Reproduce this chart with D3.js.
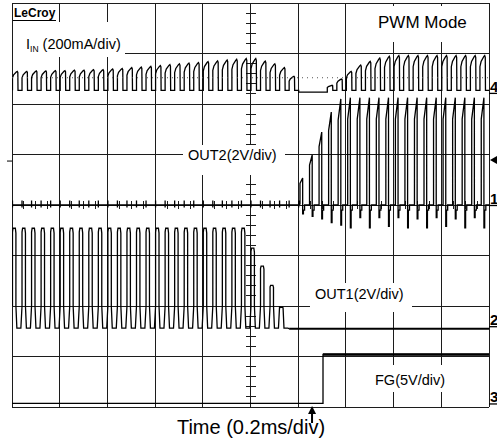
<!DOCTYPE html>
<html>
<head>
<meta charset="utf-8">
<script src="https://cdn.jsdelivr.net/npm/d3@7"></script>
<style>
  body { margin: 0; background: #fff; }
  svg { display: block; font-family: Arial, "Liberation Sans", sans-serif; }
</style>
</head>
<body>
<svg id="scope" width="497" height="443"></svg>
<script>
// timebase 0.2 ms/div, 10 divisions
let timeDomain = [0, 2.0];
let pwmPeriod = 0.04;   // ms
let pwmStart = 0.002;   // ms

// input current, peak of each PWM cycle (mA)
let iinPeaks = [85, 85, 87, 87, 88, 88, 90, 90, 92, 92,
  95, 97, 100, 102, 105, 108, 112, 115, 118, 120,
  124, 127, 130, 133, 136, 136, 126, 115, 100, 66,
  0, 0, 0, 30, 55, 85, 110, 125, 138, 145,
  148, 148, 148, 148, 148, 148, 148, 148, 148, 148];
let iinLow = 10;
let iinIdle = 3;
let iinDotted = 60;

// OUT2 (V) starts switching here
let out2Start = 1.2075;
let out2Peaks = [1.07, 1.98, 2.89, 3.68, 4.2, 4.25, 4.25, 4.25, 4.25, 4.25,
  4.25, 4.25, 4.25, 4.25, 4.25, 4.25, 4.25, 4.25, 4.25, 4.25];
let out2Under = [-0.35, -0.45, -0.55, -0.7, -0.8, -0.9, -0.5, -0.9, -0.5, -0.85,
  -0.5, -0.9, -0.55, -0.9, -0.5, -0.85, -0.55, -0.9, -0.5, -0.9];

// OUT1 (V), one peak per PWM cycle, then idle
let out1Peaks = [3.88, 3.88, 3.88, 3.88, 3.88, 3.88, 3.88, 3.88, 3.88, 3.88,
  3.88, 3.88, 3.88, 3.88, 3.88, 3.88, 3.88, 3.88, 3.88, 3.88,
  3.88, 3.88, 3.88, 3.88, 3.88, 3.09, 2.38, 1.62, 0.75];
let out1Low = -0.08;
let out1Idle = -0.1;

// FG (V)
let fgTimes = [0, 1.304, 2.0];
let fgLevels = [0, 4.85];

let triggerTime = 1.258;
let triggerLevel = 1.78; // V on OUT2

// channel settings: offset in divisions, units per division
let ch = {
  iin: { offset: 2.22, perDiv: 200 },
  out2: { offset: 0, perDiv: 2 },
  out1: { offset: -2.4, perDiv: 2 },
  fg: { offset: -3.93, perDiv: 5 }
};

let svg = d3.select("#scope");
let x = d3.scaleLinear().domain(timeDomain).range([12, 489]);
let yDiv = d3.scaleLinear().domain([-4, 4]).range([407, 3]);
let yOf = (c, v) => yDiv(c.offset + v / c.perDiv);

// grid
let grid = svg.append("g").attr("stroke", "#1c1c1c").attr("stroke-width", 1)
  .attr("shape-rendering", "crispEdges");
grid.selectAll("line.v").data(x.ticks(10)).enter().append("line")
  .attr("x1", (d) => x(d)).attr("x2", (d) => x(d))
  .attr("y1", yDiv(-4)).attr("y2", yDiv(4));
grid.selectAll("line.h").data(yDiv.ticks(8)).enter().append("line")
  .attr("x1", x(0)).attr("x2", x(2))
  .attr("y1", (d) => yDiv(d)).attr("y2", (d) => yDiv(d));
// minor ticks on centre lines
grid.selectAll("line.tx").data(x.ticks(50)).enter().append("line")
  .attr("x1", (d) => x(d)).attr("x2", (d) => x(d))
  .attr("y1", yDiv(0) - 4).attr("y2", yDiv(0) + 4);
grid.selectAll("line.ty").data(yDiv.ticks(40)).enter().append("line")
  .attr("x1", x(1) - 5).attr("x2", x(1) + 5)
  .attr("y1", (d) => yDiv(d)).attr("y2", (d) => yDiv(d));

// white boxes behind labels
let boxes = [
  [13, 22, 112, 35],
  [368, 6, 110, 36],
  [183, 145, 102, 30],
  [310, 283, 102, 29],
  [360, 365, 100, 27]
];
svg.selectAll("rect.box").data(boxes).enter().append("rect")
  .attr("x", (d) => d[0]).attr("y", (d) => d[1])
  .attr("width", (d) => d[2]).attr("height", (d) => d[3])
  .attr("fill", "#fff");

// traces
svg.append("clipPath").attr("id", "clip").append("rect")
  .attr("x", 12).attr("y", 3).attr("width", 477).attr("height", 404);
let traces = svg.append("g").attr("clip-path", "url(#clip)")
  .attr("fill", "none").attr("stroke", "#000").attr("stroke-linejoin", "miter");

let T = pwmPeriod;

let iinPts = [];
iinPeaks.forEach((p, k) => {
  let t0 = pwmStart + k * T;
  if (p === 0) {
    iinPts.push([t0, iinIdle], [t0 + T, iinIdle]);
    return;
  }
  iinPts.push([t0, iinLow], [t0, 0.7 * p], [t0 + 0.12 * T, 0.84 * p],
    [t0 + 0.4 * T, 0.97 * p], [t0 + 0.5 * T, p], [t0 + 0.56 * T, 0.95 * p],
    [t0 + 0.58 * T, iinLow], [t0 + T, iinLow]);
});

let out2Pts = [[0, 0]];
for (let t0 = pwmStart; t0 < out2Start - 0.005; t0 += T) {
  out2Pts.push([t0, 0], [t0, 0.18], [t0, -0.1], [t0, 0]);
}
out2Peaks.forEach((p, j) => {
  let t0 = out2Start + j * T;
  let u = out2Under[j];
  out2Pts.push([t0, 0.03], [t0, 0.8 * p], [t0 + 0.28 * T, p],
    [t0 + 0.28 * T, u], [t0 + 0.36 * T, u], [t0 + 0.36 * T, -0.2],
    [t0 + 0.48 * T, -0.2], [t0 + 0.48 * T, 0], [t0 + T, 0]);
});

let out1Pts = [];
out1Peaks.forEach((p, k) => {
  let t0 = pwmStart + k * T;
  let b = Math.min(0.8, p);
  out1Pts.push([t0, b], [t0, 0.96 * p], [t0 + 0.06 * T, p], [t0 + 0.3 * T, p],
    [t0 + 0.36 * T, 0.95 * p], [t0 + 0.36 * T, b], [t0 + 0.46 * T, out1Low],
    [t0 + 0.88 * T, out1Low], [t0 + T, 0.8]);
});
let out1End = pwmStart + out1Peaks.length * T;
out1Pts.pop();
out1Pts.push([out1End, out1Idle]);
let out1IdlePts = [[out1End, out1Idle], [timeDomain[1], out1Idle]];

let fgPts = [[fgTimes[0], fgLevels[0]], [fgTimes[1], fgLevels[0]],
  [fgTimes[1], fgLevels[1]], [fgTimes[2], fgLevels[1]]];

let lineFor = (c) => d3.line().x((d) => x(d[0])).y((d) => yOf(c, d[1]));

traces.append("path").attr("d", lineFor(ch.iin)(iinPts)).attr("stroke-width", 1.3);
traces.append("line")
  .attr("x1", x(0)).attr("x2", x(2))
  .attr("y1", yOf(ch.iin, iinDotted)).attr("y2", yOf(ch.iin, iinDotted))
  .attr("stroke", "#555").attr("stroke-dasharray", "1 4");
traces.append("path").attr("d", lineFor(ch.out2)(out2Pts)).attr("stroke-width", 1.3);
traces.append("path").attr("d", lineFor(ch.out1)(out1Pts)).attr("stroke-width", 1.3);
traces.append("path").attr("d", lineFor(ch.out1)(out1IdlePts)).attr("stroke-width", 2.2);
traces.append("path").attr("d", lineFor(ch.fg)(fgPts)).attr("stroke-width", 1.3);
traces.append("path").attr("d", lineFor(ch.fg)(fgPts.slice(2))).attr("stroke-width", 2.4);
traces.append("line")
  .attr("x1", x(fgTimes[1])).attr("x2", x(2))
  .attr("y1", yOf(ch.fg, fgLevels[1])).attr("y2", yOf(ch.fg, fgLevels[1]));

// labels
svg.append("text").attr("x", 14).attr("y", 17)
  .attr("font-size", 12).attr("font-weight", "bold").text("LeCroy");
svg.append("line").attr("x1", 13).attr("x2", 56).attr("y1", 20.5).attr("y2", 20.5)
  .attr("stroke", "#000").attr("stroke-width", 1.2);

let iinLabel = svg.append("text").attr("x", 26).attr("y", 49).attr("font-size", 14.5);
iinLabel.append("tspan").text("I");
iinLabel.append("tspan").attr("font-size", 8.5).attr("dy", 3).text("IN");
iinLabel.append("tspan").attr("dy", -3).text(" (200mA/div)");

svg.append("text").attr("x", 378).attr("y", 28).attr("font-size", 17).text("PWM Mode");
svg.append("text").attr("x", 188).attr("y", 160).attr("font-size", 14.5).text("OUT2(2V/div)");
svg.append("text").attr("x", 315).attr("y", 299).attr("font-size", 14.5).text("OUT1(2V/div)");
svg.append("text").attr("x", 375).attr("y", 385).attr("font-size", 14.5).text("FG(5V/div)");
svg.append("text").attr("x", 251).attr("y", 434).attr("font-size", 20)
  .attr("text-anchor", "middle").text("Time (0.2ms/div)");

// ground markers on the right
let markers = [["4", ch.iin], ["1", ch.out2], ["2", ch.out1], ["3", ch.fg]];
markers.forEach(([n, c]) => {
  let g0 = yDiv(c.offset);
  svg.append("text").attr("x", 490).attr("y", g0 - 1)
    .attr("font-size", 15).attr("font-weight", "bold").text(n);
  svg.append("line").attr("x1", 489).attr("x2", 497).attr("y1", g0 + 0.5).attr("y2", g0 + 0.5)
    .attr("stroke", "#000").attr("stroke-width", 1.3);
});

// trigger level arrow (right) and small left marker
let ty = yOf(ch.out2, triggerLevel);
svg.append("path").attr("d", `M490,${ty} L497,${ty - 4} L497,${ty + 4} Z`).attr("fill", "#000");
svg.append("line").attr("x1", 7).attr("x2", 12).attr("y1", ty + 1).attr("y2", ty + 1)
  .attr("stroke", "#000");

// trigger position arrow (bottom)
let tx = x(triggerTime);
svg.append("line").attr("x1", tx).attr("x2", tx).attr("y1", 411).attr("y2", 423)
  .attr("stroke", "#000").attr("stroke-width", 2);
svg.append("path").attr("d", `M${tx - 4},${414} L${tx},${406} L${tx + 4},${414} Z`).attr("fill", "#000");
</script>
</body>
</html>
